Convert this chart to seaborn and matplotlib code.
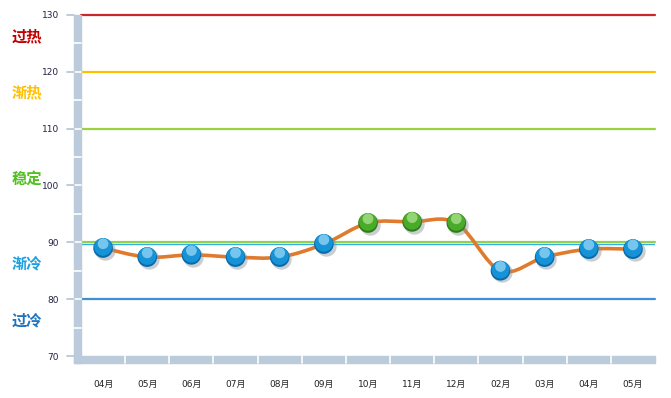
import numpy as np
import pandas as pd
import matplotlib
matplotlib.use("Agg")
import matplotlib.pyplot as plt
import seaborn as sns
from matplotlib.path import Path
from matplotlib.patches import PathPatch, Rectangle

sns.set_theme(style="white")
plt.rcParams['font.family'] = ['DejaVu Sans', 'Noto Sans CJK SC']

# data
months = ['04月', '05月', '06月', '07月', '08月', '09月', '10月',
          '11月', '12月', '02月', '03月', '04月', '05月']
values = [89.0, 87.4, 87.8, 87.4, 87.4, 89.7, 93.4, 93.6, 93.4, 85.0, 87.4, 88.8, 88.8]

# threshold lines and zone labels
levels = [130, 120, 110, 90, 80]
level_colors = ['#c8282d', '#ffc000', '#9ad13f', '#92d050', '#3f8fd8']
zone_names = ['过热', '渐热', '稳定', '渐冷', '过冷']
zone_y = [126.3, 116.3, 101.2, 86.3, 76.3]
zone_colors = ['#c00000', '#ffc000', '#50c020', '#1ba1e2', '#1f73c0']

df = pd.DataFrame({'x': np.arange(len(months)), 'value': values})
df['state'] = np.where(df['value'] >= 90, 'stable', 'cold')

W, H = 671, 398
fig = plt.figure(figsize=(W / 100, H / 100), dpi=100)
ax = fig.add_axes([81 / W, 1 - 356 / H, (655 - 81) / W, (356 - 15) / H])
ax.set_xlim(-0.5, len(months) - 0.5)
ax.set_ylim(70, 130)
for s in ax.spines.values():
    s.set_visible(False)


def ypix(v):
    return 1 - (15 + (130 - v) * (356 - 15) / 60) / H


# gray "walls" on the left and bottom
wall = '#bccbdb'
fig.patches.append(Rectangle((74 / W, 1 - 363 / H), 7 / W, (363 - 15) / H,
                             transform=fig.transFigure, color=wall, zorder=0))
fig.patches.append(Rectangle((74 / W, 1 - 363 / H), (655 - 74) / W, 7 / H,
                             transform=fig.transFigure, color=wall, zorder=0))
for k in range(1, len(months)):
    xf = (81 + (655 - 81) * k / len(months)) / W
    fig.lines.append(plt.Line2D([xf, xf], [1 - 363 / H, 1 - 356 / H],
                                transform=fig.transFigure, color='white', lw=1.2))
for v in range(75, 130, 5):
    fig.lines.append(plt.Line2D([74 / W, 81 / W], [ypix(v), ypix(v)],
                                transform=fig.transFigure, color='white', lw=1.2))
for v in range(70, 131, 10):
    fig.lines.append(plt.Line2D([67 / W, 74 / W], [ypix(v), ypix(v)],
                                transform=fig.transFigure, color='#b4c2d2', lw=1.2))

# threshold lines
for lv, c in zip(levels, level_colors):
    ax.axhline(lv, color=c, lw=1.6, zorder=1, clip_on=False)
ax.axhline(89.75, color='#33aee8', lw=1.0, zorder=1)

for name, y, c in zip(zone_names, zone_y, zone_colors):
    fig.text(12 / W, ax.transData.transform((0, y))[1] / H, name, color=c,
             fontsize=11, fontweight='bold', family=['Noto Sans CJK SC'],
             va='center', ha='left')

# smooth curve through the points (Catmull-Rom as cubic Bezier)
pts = np.column_stack([df['x'], df['value']])
verts = [tuple(pts[0])]
codes = [Path.MOVETO]
n = len(pts)
for i in range(n - 1):
    p0 = pts[max(i - 1, 0)]
    p1 = pts[i]
    p2 = pts[i + 1]
    p3 = pts[min(i + 2, n - 1)]
    c1 = p1 + (p2 - p0) / 6
    c2 = p2 - (p3 - p1) / 6
    verts += [tuple(c1), tuple(c2), tuple(p2)]
    codes += [Path.CURVE4] * 3
ax.add_patch(PathPatch(Path(verts, codes), fill=False, edgecolor='#e07b2e',
                       lw=2.6, zorder=3, capstyle='round'))

# glossy markers: shadow, dark rim, body, top highlight
ax.scatter(df['x'] + 0.04, df['value'] - 0.3, s=215, color='#8a939c', alpha=0.45,
           zorder=4, linewidths=0)
sns.scatterplot(data=df, x='x', y='value', hue='state',
                palette={'cold': '#0a6aa8', 'stable': '#2d7d18'},
                s=200, linewidth=0, legend=False, ax=ax, zorder=5)
body = df.assign(value=df['value'] + 0.2)
sns.scatterplot(data=body, x='x', y='value', hue='state',
                palette={'cold': '#1692d6', 'stable': '#4aaa2a'},
                s=165, linewidth=0, legend=False, ax=ax, zorder=6)
top = df.assign(value=df['value'] + 0.75)
sns.scatterplot(data=top, x='x', y='value', hue='state',
                palette={'cold': '#8fd3f5', 'stable': '#a6e08a'},
                s=60, linewidth=0, alpha=0.8, legend=False, ax=ax, zorder=7)

ax.set_xlabel('')
ax.set_ylabel('')
ax.set_xticks(df['x'])
ax.set_xticklabels(months, fontsize=6.5, color='#222222')
ax.set_yticks(range(70, 131, 10))
ax.set_yticklabels([str(v) for v in range(70, 131, 10)], fontsize=6.5, color='#222244')
ax.tick_params(axis='x', length=0, pad=17)
ax.tick_params(axis='y', length=0, pad=16)

fig.savefig('out.png', dpi=100)
